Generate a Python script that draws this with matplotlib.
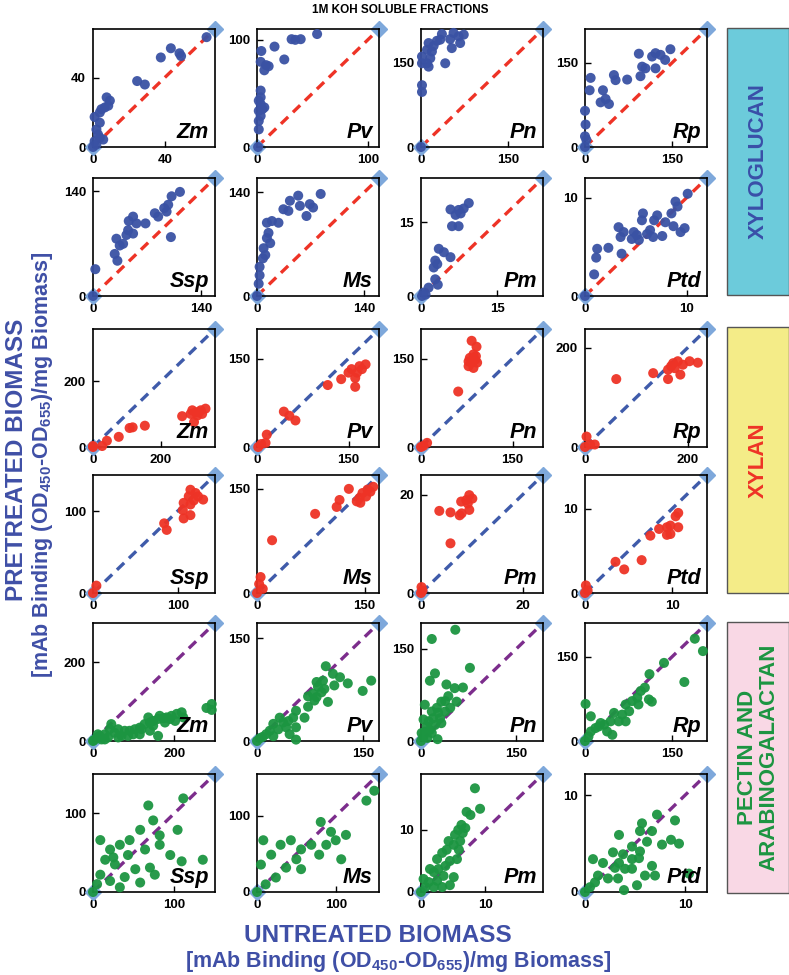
import matplotlib.pyplot as plt
from matplotlib.patches import Rectangle

plt.rcParams['font.family'] = ['Liberation Sans', 'DejaVu Sans']
plt.rcParams['font.weight'] = 'bold'
plt.rcParams['mathtext.fontset'] = 'custom'
plt.rcParams['mathtext.rm'] = 'Liberation Sans:bold'
plt.rcParams['mathtext.default'] = 'rm'

species = ['Zm', 'Pv', 'Pn', 'Rp', 'Ssp', 'Ms', 'Pm', 'Ptd']

# ---- xyloglucan (untreated, pretreated) ----
xg_Zm = [(63.3, 63.3), (43.4, 56.9), (48.2, 54), (49.1, 52.4), (37.8, 51.6), (24.6, 38), (28.9, 36),
         (7.6, 28.6), (9.4, 26.7), (6.6, 22.8), (3.8, 19.9), (0.9, 17.3), (3.8, 14), (1.9, 10.1),
         (2.8, 7.2), (5.7, 4.3), (0.9, 3.3), (0, 0), (1.9, 1.4), (3.8, 5.3), (4.7, 21.8), (8.5, 23.8)]
xg_Pv = [(54.2, 105.3), (39.4, 100.5), (34.5, 99.9), (31.2, 100.5), (15.8, 93.6), (24.6, 81.6),
         (3.9, 89.5), (3.3, 79.4), (8.2, 76.3), (10.5, 75.3), (6.6, 71.5), (3.3, 52.6), (1.6, 43.2),
         (3.3, 40), (6.6, 36.9), (1.6, 33.7), (3.3, 29), (1.6, 24.3), (1.6, 16.4), (1, 0),
         (3.3, 46.3), (4.9, 35.3)]
xg_Pn = [(36, 201), (56, 203), (73.6, 200), (50.2, 192), (67.4, 185), (53, 176), (27.4, 189),
         (21.7, 180), (13.1, 185), (10.3, 173), (1.7, 161), (1.7, 149), (10.3, 149), (16, 158),
         (13.1, 143), (41.7, 149), (1.7, 110), (1.7, 98), (18.8, 170), (33, 191), (64.8, 197), (0, 0)]
xg_Rp = [(147, 174), (121.4, 167), (130, 164), (115.5, 161), (138, 155), (92.7, 166), (98.4, 143),
         (104, 140), (95.5, 126), (121.4, 140), (72.6, 120), (49.8, 128), (52.6, 119), (9.7, 123),
         (8, 101), (30.9, 101), (26.9, 79.5), (41.2, 76.5), (35.5, 85.5), (0, 64.4), (1, 40),
         (0, 19), (2.3, 13), (0, 0)]
xg_Ssp = [(112.6, 139.4), (101.8, 133.5), (97.4, 122.2), (92.2, 117.6), (95.3, 113), (100.9, 78.9),
          (80.1, 110.8), (84.4, 106.3), (68, 97.2), (51.9, 106.3), (46.3, 100.4), (56.3, 97.2),
          (45.5, 88.1), (51.9, 83.6), (43.3, 81.7), (30.3, 76.7), (39, 69.9), (34.6, 67.6),
          (28.1, 56.3), (31.6, 47.2), (3, 35.9), (0, 0)]
xg_Ms = [(83, 137.5), (53.7, 135.2), (42.9, 128.3), (55.9, 121.5), (68.8, 123.8), (73.1, 119.2),
         (64.5, 107.8), (34.4, 116.9), (40.9, 114.7), (28, 98.7), (19.4, 101), (12.9, 98.7),
         (15, 85), (12.9, 78.1), (17.2, 71.2), (8.6, 64.4), (10.8, 55.2), (7.7, 50.7), (3.4, 39.3),
         (3.4, 27.9), (2.2, 16.5), (0, 0)]
xg_Pm = [(9.4, 18.9), (8.4, 17.8), (7.4, 17.5), (5.8, 17.6), (6.8, 16.5), (7.8, 16.8), (6.1, 14.2),
         (7.4, 14.2), (3.5, 9.6), (4.5, 8.9), (5.8, 7.9), (2.8, 7.2), (3.2, 6.5), (2.5, 5.8),
         (2.8, 3.4), (3.3, 2.3), (1.5, 1.7), (0.5, 0.7), (0.2, 0), (0.9, 0.3)]
xg_Ptd = [(10.1, 10.4), (8.9, 9.6), (9.1, 9.1), (8.5, 8.4), (8.7, 7.1), (9.8, 6.9), (9.4, 6.5),
          (7.6, 6.1), (7.9, 7.5), (7.1, 8.2), (6.8, 7.7), (5.7, 8.4), (5.6, 7.7), (6.4, 6.7),
          (6.7, 6), (6.1, 6.3), (5.1, 6.2), (4.8, 6.5), (4.6, 5.8), (3.8, 6.5), (3.5, 6), (3.3, 7),
          (3.6, 4.3), (2.3, 4.9), (1.2, 4.8), (1.1, 3.9), (0.9, 2.2), (0, 0), (5.3, 5.7)]
xg_max = [68, 110, 210, 210, 158, 159, 24, 12]
xg_tick = [40, 100, 150, 150, 140, 140, 15, 10]

# ---- xylan ----
xy_Zm = [(332, 117), (318, 112), (303, 106), (293, 112), (308, 96), (322, 101), (298, 76), (263, 94),
         (153, 65), (117, 60), (108, 58), (76, 31), (41, 19), (27, 3), (0, 3), (0, 0), (312, 106),
         (288, 101)]
xy_Pv = [(178, 140), (168, 137), (155, 132), (150, 126), (138, 115), (161, 117), (164, 126),
         (172, 132), (161, 102), (116, 105), (44, 60), (53, 53), (63, 45), (16, 21), (14, 7),
         (7, 5), (2, 0)]
xy_Pn = [(83, 180), (91, 170), (86, 157), (89, 148), (83, 143), (78, 137), (86, 134), (90, 154),
         (78, 145), (61, 94), (4, 2), (10, 7), (0, 0), (80, 151), (92, 143)]
xy_Rp = [(220, 170), (204, 173), (191, 166), (181, 173), (168, 163), (175, 159), (162, 156),
         (186, 146), (162, 137), (133, 149), (61, 137), (3, 21), (10, 5), (19, 5), (0, 0), (172, 169)]
xy_Ssp = [(115, 126), (121, 122), (113, 118), (119, 113), (130, 114), (107, 110), (115, 108),
          (106, 101), (115, 95), (107, 91), (84, 85), (87, 77), (4, 9), (0, 0), (124, 118)]
xy_Ms = [(162, 153), (154, 149), (147, 144), (152, 139), (143, 137), (139, 132), (144, 130),
         (158, 146), (128, 150), (115, 134), (111, 124), (81, 114), (21, 76), (5, 23), (3, 13),
         (8, 6), (0, 0)]
xy_Pm = [(9.5, 19.9), (10.1, 19.2), (8.9, 18.9), (7.9, 18.6), (9.2, 18.2), (9.5, 16.9), (8.0, 16.2),
         (7.6, 15.8), (3.6, 16.7), (5.8, 16.4), (5.8, 10.1), (0, 0), (0.3, 0.5), (0.1, 1.2)]
xy_Ptd = [(10.7, 9.5), (10.4, 9.1), (10.7, 7.8), (9.8, 8), (9.4, 7.8), (8.5, 7.6), (9.8, 7),
          (9.4, 6.9), (7.5, 6.8), (6.5, 3.9), (3.5, 3.7), (4.5, 2.8), (0.1, 0.9), (0.3, 0.3), (0, 0)]
xy_max = [360, 200, 200, 238, 144, 170, 24, 14]
xy_tick = [200, 150, 150, 200, 100, 150, 20, 10]

# ---- pectin and arabinogalactan ----
pa_Zm = [(292, 94), (279, 84), (292, 79), (218, 73), (206, 69), (193, 64), (181, 60), (173, 58),
         (160, 56), (148, 51), (136, 60), (140, 47), (127, 43), (115, 34), (160, 13), (103, 30),
         (90, 26), (78, 26), (62, 30), (45, 43), (41, 30), (53, 21), (29, 17), (16, 13), (8, 7),
         (2, 2), (0, 0), (21, 4), (37, 9), (70, 13), (99, 17), (119, 30), (148, 39), (177, 47),
         (202, 51), (222, 60), (189, 56), (164, 64), (12, 17), (29, 4), (62, 9), (86, 13), (115, 17),
         (140, 26)]
pa_Pv = [(97, 109), (107, 98), (117, 93), (128, 84), (161, 88), (149, 73), (100, 57), (109, 81),
         (84, 86), (86, 79), (95, 76), (79, 69), (84, 64), (81, 59), (72, 50), (55, 44), (51, 34),
         (67, 34), (44, 29), (32, 34), (37, 27), (23, 25), (30, 17), (55, 2), (46, 10), (18, 15),
         (13, 10), (8, 6), (4, 4), (0, 0), (23, 7), (41, 20), (55, 20), (72, 65), (91, 71), (93, 88)]
pa_Pn = [(54, 181), (17, 166), (77, 119), (22, 110), (14, 98), (40, 92), (53, 86), (66, 87), (43, 73),
         (32, 64), (38, 65), (56, 64), (6, 59), (4, 35), (25, 54), (27, 46), (17, 48), (12, 32),
         (19, 37), (30, 37), (38, 48), (9, 24), (14, 18), (6, 15), (4, 7), (0, 0), (26, 3), (22, 26),
         (32, 29), (46, 54), (1, 13), (17, 13), (10, 5)]
pa_Rp = [(189, 182), (203, 160), (136, 139), (111, 119), (171, 105), (103, 95), (96, 89), (110, 74),
         (115, 70), (90, 77), (81, 71), (70, 65), (76, 53), (64, 47), (50, 50), (44, 35), (33, 29),
         (47, 11), (24, 26), (18, 23), (10, 17), (1, 66), (10, 44), (6, 8), (0, 0), (38, 17),
         (70, 35), (92, 65), (58, 35), (27, 32)]
pa_Ssp = [(111, 119), (68, 110), (74, 91), (58, 79), (82, 72), (104, 79), (135, 41), (109, 39),
          (45, 66), (33, 60), (21, 54), (43, 47), (64, 54), (9, 66), (15, 41), (27, 35), (52, 29),
          (70, 31), (39, 19), (9, 22), (5, 10), (33, 6), (58, 12), (0, 0), (82, 60), (95, 47),
          (25, 44), (76, 22), (21, 14)]
pa_Ms = [(149, 133), (139, 120), (94, 79), (81, 92), (100, 68), (69, 62), (56, 56), (79, 49),
         (107, 43), (43, 68), (30, 62), (8, 68), (18, 49), (5, 36), (37, 32), (56, 30), (24, 19),
         (11, 10), (0, 0), (113, 75), (88, 62), (50, 43)]
pa_Pm = [(8.4, 16.7), (9.2, 13.4), (7.1, 12.9), (7.7, 12.4), (6.3, 10.8), (6.9, 10.3), (5.8, 10),
         (6.5, 9.5), (5.3, 9.2), (6.1, 8.2), (4.3, 8.2), (5.1, 7.6), (4, 6.8), (3.3, 6.3), (5.9, 6.8),
         (5.6, 5.3), (2.5, 5.3), (4.5, 5), (3.8, 4.2), (5.1, 2.4), (2.7, 3.7), (2, 3.2), (1.4, 3.7),
         (0.4, 2.1), (1.2, 1.6), (2.5, 1.8), (3.3, 0.8), (4.5, 1.1), (0.7, 0.8), (0, 0), (2, 0.8),
         (3.5, 2.6)]
pa_Ptd = [(7.2, 8), (9, 7.4), (5.7, 7.1), (3.4, 5.9), (5.5, 6.3), (6.2, 5.2), (8.6, 5.4), (9.4, 5),
          (7.7, 4.9), (6.7, 6.3), (4.7, 4.7), (5.5, 4.2), (2.8, 4.1), (3.8, 3.9), (0.8, 3.4),
          (1.8, 3), (3.4, 3), (4.7, 3.4), (6.7, 2.7), (7, 1.7), (6, 1.7), (4.7, 2.4), (4, 2.4),
          (3, 2.5), (2.3, 1.4), (1.3, 1.7), (3.9, 0.2), (5.2, 0.7), (10.4, 1.9), (1, 1), (0.5, 0.5),
          (0, 0), (3.3, 1.4), (5.4, 3.5)]
pa_max = [300, 172, 192, 210, 150, 155, 19, 12.2]
pa_tick = [200, 150, 150, 150, 100, 100, 10, 10]

groups = [
    ([xg_Zm, xg_Pv, xg_Pn, xg_Rp, xg_Ssp, xg_Ms, xg_Pm, xg_Ptd], xg_max, xg_tick, '#3A52A4', '#EE3326'),
    ([xy_Zm, xy_Pv, xy_Pn, xy_Rp, xy_Ssp, xy_Ms, xy_Pm, xy_Ptd], xy_max, xy_tick, '#EE3326', '#3F5BAA'),
    ([pa_Zm, pa_Pv, pa_Pn, pa_Rp, pa_Ssp, pa_Ms, pa_Pm, pa_Ptd], pa_max, pa_tick, '#1C9541', '#7C2D8C'),
]

W, H = 789, 975
fig = plt.figure(figsize=(W / 100, H / 100), dpi=100)
col_left = [93, 257, 421, 585]
row_top = [29, 178, 329, 475, 623, 774]
pw, ph = 122, 118
diamond = '#7EA8DB'
lab_blue = '#3F4FA6'

for g, (panels, maxes, ticks, pcol, lcol) in enumerate(groups):
    for k in range(8):
        r = g * 2 + k // 4
        c = k % 4
        ax = fig.add_axes([col_left[c] / W, 1 - (row_top[r] + ph) / H, pw / W, ph / H])
        m = maxes[k]
        pts = panels[k]
        ax.plot([0, m], [0, m], ls=(0, (3, 2)), lw=2.4, color=lcol, zorder=2)
        ax.plot([0, m], [0, m], ls='none', marker='D', ms=8, color=diamond, clip_on=False, zorder=2.5)
        ax.scatter([p[0] for p in pts], [p[1] for p in pts], s=52, color=pcol, edgecolors='none',
                   alpha=0.95, zorder=3, clip_on=False)
        ax.set_xlim(0, m)
        ax.set_ylim(0, m)
        ax.set_xticks([0, ticks[k]])
        ax.set_yticks([0, ticks[k]])
        ax.tick_params(direction='in', length=4, width=1, labelsize=9.5, pad=5)
        for lab in ax.get_xticklabels() + ax.get_yticklabels():
            lab.set_fontweight('bold')
        for sp in ax.spines.values():
            sp.set_linewidth(1.2)
        ax.text(0.95, 0.03, species[k], transform=ax.transAxes, ha='right', va='bottom',
                fontsize=15.5, fontweight='bold', fontstyle='italic', zorder=4)

# side boxes
boxes = [(28, 295, '#6CCBDB', 'XYLOGLUCAN', '#3A4FA8'),
         (327, 593, '#F4EC88', 'XYLAN', '#EE3326'),
         (622, 893, '#F9D8E5', 'PECTIN AND\nARABINOGALACTAN', '#1C9541')]
for top, bot, fc, txt, tc in boxes:
    fig.add_artist(Rectangle((727 / W, 1 - bot / H), 62 / W, (bot - top) / H, transform=fig.transFigure,
                             facecolor=fc, edgecolor='#555555', lw=1))
    fig.text(758 / W, 1 - (top + bot) / 2 / H, txt, rotation=90, ha='center', va='center',
             fontsize=16, fontweight='bold', color=tc, linespacing=1.05)

fig.text(400 / W, 1 - 10 / H, '1M KOH SOLUBLE FRACTIONS', ha='center', va='center', fontsize=8.5,
         fontweight='bold')
fig.text(378 / W, 1 - 935 / H, 'UNTREATED BIOMASS', ha='center', va='center', fontsize=17.5,
         fontweight='bold', color=lab_blue)
fig.text(398 / W, 1 - 962 / H, '[mAb Binding (OD$_{450}$-OD$_{655}$)/mg Biomass]', ha='center',
         va='center', fontsize=15.5, fontweight='bold', color=lab_blue)
fig.text(17 / W, 1 - 460 / H, 'PRETREATED BIOMASS', rotation=90, ha='center', va='center',
         fontsize=17.5, fontweight='bold', color=lab_blue)
fig.text(43 / W, 1 - 465 / H, '[mAb Binding (OD$_{450}$-OD$_{655}$)/mg Biomass]', rotation=90,
         ha='center', va='center', fontsize=15.5, fontweight='bold', color=lab_blue)

fig.savefig('out.png', dpi=100)
